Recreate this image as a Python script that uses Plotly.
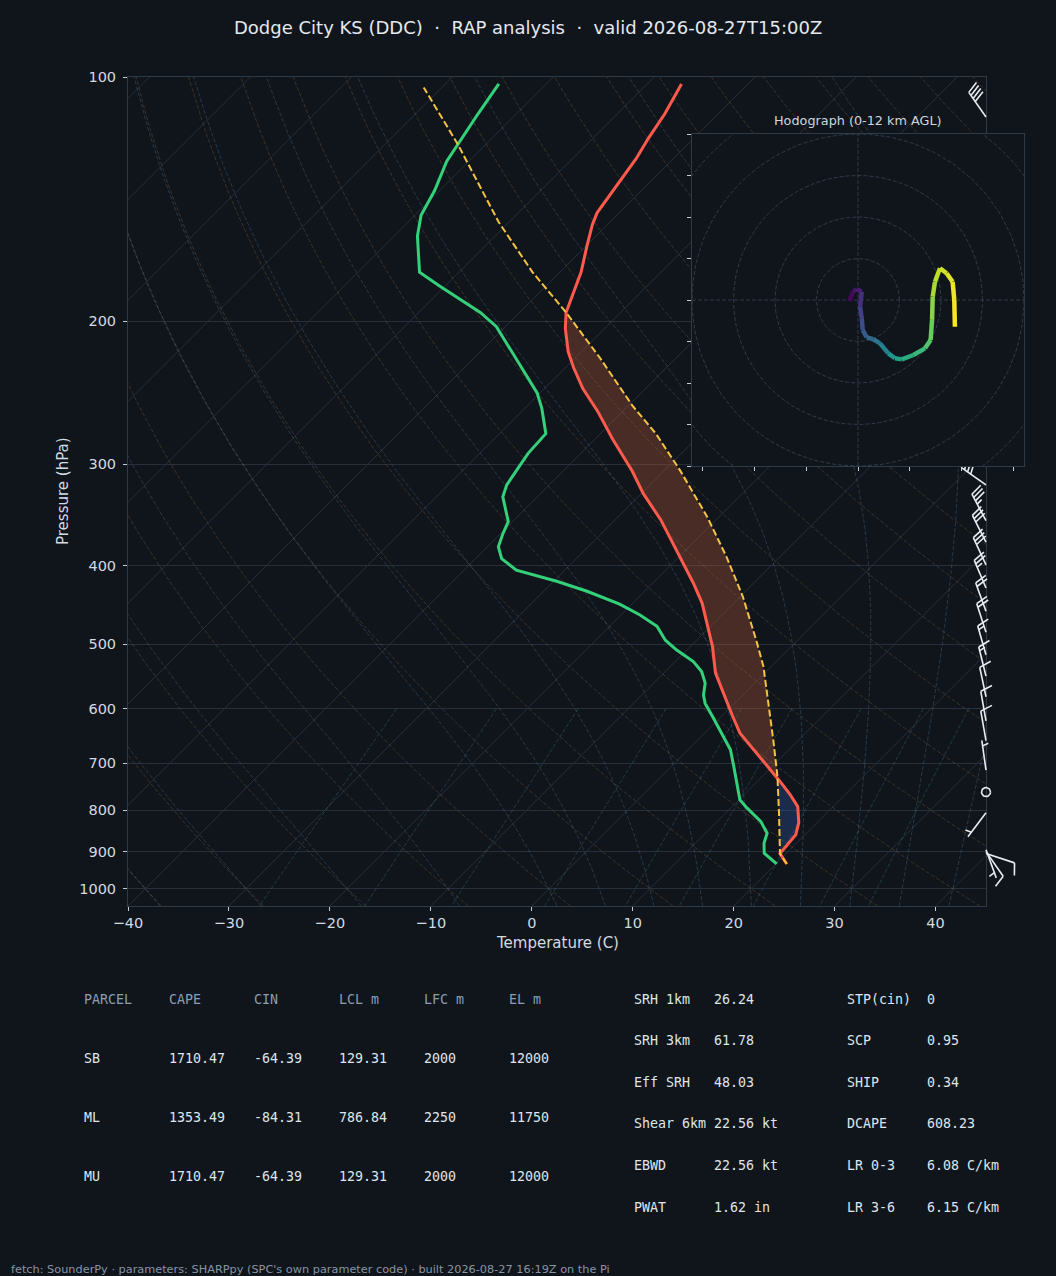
import numpy as np
import plotly.graph_objects as go
from plotly.colors import sample_colorscale

# ---- sounding (hPa, degC), surface first ----
env_p = [932, 905, 858, 829, 792, 766, 738, 713, 680, 643, 613, 574, 542, 503, 480, 445, 420, 390, 351, 326,
         306, 279, 258, 242, 228, 218, 204, 195, 184, 174, 161, 152, 147, 136, 126, 119, 111, 102]
env_t = [21.1, 19.4, 19.1, 18.2, 16.5, 14.6, 12.3, 10.1, 7.0, 3.5, 1.1, -2.1, -4.9, -7.8, -9.8, -13.1, -16.0, -19.9, -25.5, -29.8,
         -33.1, -38.3, -42.5, -46.2, -49.2, -51.3, -53.9, -55.4, -56.7, -57.9, -60.0, -61.5, -62.2, -63.0, -63.7, -64.5, -65.3, -66.6]

dew_p = [932, 904, 879, 854, 826, 795, 777, 748, 707, 674, 643, 613, 591, 577, 558, 540, 525, 508, 494, 475,
         460, 446, 430, 418, 405, 392, 379, 366, 353, 329, 318, 309, 291, 275, 256, 245, 223, 203, 195, 188,
         181, 174, 157, 148, 138, 127, 121, 111, 102]
dew_t = [20.1, 17.8, 16.8, 16.1, 14.3, 11.6, 10.1, 8.5, 6.2, 4.2, 1.7, -0.9, -2.9, -3.9, -4.9, -6.4, -8.2, -11.0, -13.1, -15.3,
         -18.1, -21.2, -25.7, -29.7, -34.8, -37.4, -38.9, -39.7, -40.4, -43.4, -44.2, -44.5, -45.2, -45.4, -48.3, -50.3, -55.6, -60.9, -63.9, -67.2,
         -70.5, -73.9, -77.7, -79.4, -80.5, -82.2, -82.8, -83.8, -84.7]

parcel_p = [932, 905, 807, 727, 656, 608, 532, 494, 437, 390, 348, 305, 275, 254, 222, 195, 174, 151, 121, 103]
parcel_t = [21.1, 19.4, 15.3, 11.5, 7.5, 4.5, -0.8, -4.1, -9.7, -15.3, -21.2, -28.5, -34.5, -39.6, -47.5, -55.4, -62.7, -71.0, -82.8, -91.8]

# wind barbs (hPa, direction deg, speed kt)
barb_p = [112, 318, 352, 374, 399, 426, 455, 483, 515, 547, 580, 621, 657, 714, 760, 806, 895, 900, 905]
barb_dir = [325, 305, 332, 333, 335, 337, 340, 342, 344, 346, 348, 350, 350, 352, 0, 217, 160, 145, 108]
barb_kt = [40, 40, 35, 30, 30, 25, 20, 20, 15, 15, 10, 10, 10, 5, 0, 5, 5, 10, 10]

# hodograph (kt) and height (km AGL)
hodo_u = [-4.2, -2.3, -0.6, 1.8, 1.0, 1.8, 2.3, 4.2, 7.4, 10.6, 14.6, 17.8, 21.1, 26.7, 32.3, 35.0, 35.7, 36.0, 37.1, 39.5, 42.7, 45.6, 46.4, 46.7]
hodo_v = [-0.5, 4.0, 5.3, 4.0, -3.2, -8.8, -14.5, -18.0, -18.9, -20.9, -25.7, -28.1, -28.6, -26.5, -23.3, -19.3, -9.6, 1.6, 8.8, 15.3, 12.9, 8.8, 0.0, -12.9]
hodo_z = [0.0, 0.5, 0.8, 1.2, 2.0, 2.6, 3.0, 3.8, 4.3, 4.8, 5.8, 6.6, 7.1, 7.8, 8.4, 8.9, 9.5, 10.2, 10.6, 11.0, 11.3, 11.6, 11.8, 12.0]

# parameter table
parcels = ["SB", "ML", "MU"]
cape = ["1710.47", "1353.49", "1710.47"]
cin = ["-64.39", "-84.31", "-64.39"]
lcl = ["129.31", "786.84", "129.31"]
lfc = ["2000", "2250", "2000"]
el = ["12000", "11750", "12000"]
table_head = ["PARCEL", "CAPE", "CIN", "LCL m", "LFC m", "EL m"]
kin_names = ["SRH 1km", "SRH 3km", "Eff SRH", "Shear 6km", "EBWD", "PWAT"]
kin_vals = ["26.24", "61.78", "48.03", "22.56 kt", "22.56 kt", "1.62 in"]
comp_names = ["STP(cin)", "SCP", "SHIP", "DCAPE", "LR 0-3", "LR 3-6"]
comp_vals = ["0", "0.95", "0.34", "608.23", "6.08 C/km", "6.15 C/km"]

BG = "#10151c"
SPINE = "#2f3a47"
GRID = "#262f3a"
TXT = "#d3dae1"
TICK = "#c3ccd5"
FONT = "DejaVu Sans"
MONO = "DejaVu Sans Mono"

W, H = 1056, 1276
P_BOT, P_TOP = 1050.0, 100.0
PX_PER_C = 858 / 85.0
PX_PER_DEC = 829 / np.log10(P_BOT / P_TOP)
SKEW = PX_PER_DEC / PX_PER_C   # 45 degree skew


def skx(t, p):
    return np.asarray(t, float) + SKEW * np.log10(P_BOT / np.asarray(p, float))


def joined(curves):
    xs, ys = [], []
    for x, y in curves:
        xs += list(x) + [None]
        ys += list(y) + [None]
    return xs, ys


fig = go.Figure()

# ---- background lines ----
pgrid = np.linspace(P_BOT, P_TOP, 120)

iso = [(skx([t, t], [P_BOT, P_TOP]), [P_BOT, P_TOP]) for t in range(-120, 50, 10)]
x, y = joined(iso)
fig.add_trace(go.Scatter(x=x, y=y, mode="lines", line=dict(color=GRID, width=1)))

dry = []
for th in range(-40, 250, 10):
    t = (th + 273.15) * (pgrid / 1000.0) ** 0.2857 - 273.15
    dry.append((skx(t, pgrid), pgrid))
x, y = joined(dry)
fig.add_trace(go.Scatter(x=x, y=y, mode="lines",
                         line=dict(color="rgba(190,130,60,0.27)", width=1, dash="4px,2px")))

Rd, Cp, Lv, EPS = 287.047, 1004.67, 2.50084e6, 0.62196


def dtdlnp(t, p):
    es = 6.112 * np.exp(17.67 * (t - 273.15) / (t - 29.65))
    es = min(es, 0.5 * p)
    rs = EPS * es / (p - es)
    return (Rd * t + Lv * rs) / (Cp + Lv * Lv * rs * EPS / (Rd * t * t))


def moist_curve(t0):
    out_p, out_t = [1000.0], [t0 + 273.15]
    for p_end in (P_TOP, P_BOT):
        lps = np.linspace(np.log(1000.0), np.log(p_end), 150)
        t = t0 + 273.15
        seq = []
        for a, b in zip(lps[:-1], lps[1:]):
            h = b - a
            pa, pm, pb = np.exp(a), np.exp(a + h / 2), np.exp(b)
            k1 = dtdlnp(t, pa)
            k2 = dtdlnp(t + h * k1 / 2, pm)
            k3 = dtdlnp(t + h * k2 / 2, pm)
            k4 = dtdlnp(t + h * k3, pb)
            t = t + h * (k1 + 2 * k2 + 2 * k3 + k4) / 6
            seq.append((pb, t))
        if p_end == P_TOP:
            out_p += [s[0] for s in seq]
            out_t += [s[1] for s in seq]
        else:
            out_p = [s[0] for s in seq][::-1] + out_p
            out_t = [s[1] for s in seq][::-1] + out_t
    out_p = np.array(out_p)
    return skx(np.array(out_t) - 273.15, out_p), out_p


moist = [moist_curve(t0) for t0 in list(range(-40, 0, 10)) + list(range(0, 46, 5))]
x, y = joined(moist)
fig.add_trace(go.Scatter(x=x, y=y, mode="lines",
                         line=dict(color="rgba(90,140,180,0.30)", width=1, dash="4px,2px")))

mix = []
pm_ = np.linspace(600, P_BOT, 40)
for w in [0.0004, 0.001, 0.002, 0.004, 0.007, 0.01, 0.016, 0.024, 0.032]:
    e = pm_ * w / (EPS + w)
    ln = np.log(e / 6.112)
    td = 243.5 * ln / (17.67 - ln)
    mix.append((skx(td, pm_), pm_))
x, y = joined(mix)
fig.add_trace(go.Scatter(x=x, y=y, mode="lines",
                         line=dict(color="rgba(70,150,160,0.30)", width=1, dash="4px,2px")))


# ---- CAPE / CIN shading ----
def at(lp, plist, tlist):
    return np.interp(-lp, -np.log10(plist), tlist)


def shade(p_lo, p_hi, positive, color):
    lp = np.linspace(np.log10(p_lo), np.log10(p_hi), 400)
    pp = 10 ** lp
    te = at(lp, env_p, env_t)
    tp = at(lp, parcel_p, parcel_t)
    if positive:
        a, b = te, np.maximum(tp, te)
    else:
        a, b = tp, np.maximum(te, tp)
    xs = np.concatenate([skx(a, pp), skx(b, pp)[::-1]])
    ys = np.concatenate([pp, pp[::-1]])
    fig.add_trace(go.Scatter(x=xs, y=ys, mode="lines", fill="toself", fillcolor=color,
                             line=dict(width=0)))


shade(905, 195, True, "rgba(203,98,58,0.30)")
shade(905, 600, False, "rgba(53,94,170,0.32)")

# ---- profiles ----
fig.add_trace(go.Scatter(x=skx(dew_t, dew_p), y=dew_p, mode="lines", line=dict(color="#33d17a", width=3)))
fig.add_trace(go.Scatter(x=skx(env_t, env_p), y=env_p, mode="lines", line=dict(color="#ff5a4c", width=3)))
fig.add_trace(go.Scatter(x=skx(parcel_t, parcel_p), y=parcel_p, mode="lines",
                         line=dict(color="#f5c242", width=2, dash="7px,3px")))

# ---- wind barbs along the right edge ----
BL = 30.0
bx, by = [], []


def barb(p0, wdir, spd):
    lp0 = np.log10(p0)
    a = np.radians(wdir)
    ae, an = np.sin(a), np.cos(a)
    pe, pn = np.cos(a), -np.sin(a)

    def seg(pts):
        for px_, al in pts:
            e = px_ * pe + al * ae
            n = px_ * pn + al * an
            bx.append(45 + e / PX_PER_C)
            by.append(10 ** (lp0 - n / PX_PER_DEC))
        bx.append(None)
        by.append(None)

    mag = 5 * round(spd / 5.0)
    if mag < 5:
        r = 0.15 * BL
        th = np.linspace(0, 2 * np.pi, 30)
        seg([(r * np.cos(q), r * np.sin(q)) for q in th])
        return
    hgt, wid, sp = 0.4 * BL, 0.25 * BL, 0.125 * BL
    seg([(0, 0), (0, BL)])
    off = BL
    for _ in range(mag // 50):
        seg([(0, off), (hgt, off - wid / 2), (0, off - wid)])
        off -= wid + sp
    for _ in range((mag % 50) // 10):
        seg([(0, off), (hgt, off + wid / 2)])
        off -= sp
    if mag % 10 >= 5:
        if off == BL:
            off -= 1.5 * sp
        seg([(0, off), (hgt / 2, off + wid / 4)])


for p0, d, s in zip(barb_p, barb_dir, barb_kt):
    barb(p0, d, s)
fig.add_trace(go.Scatter(x=bx, y=by, mode="lines", line=dict(color="#e8edf2", width=1.6),
                         xaxis="x2", yaxis="y2"))

# ---- hodograph inset ----
th = np.linspace(0, 2 * np.pi, 181)
rings = [(r * np.cos(th), r * np.sin(th)) for r in (20, 40, 60, 80, 100)]
x, y = joined(rings + [([-80, 80], [0, 0]), ([0, 0], [-80, 80])])
fig.add_trace(go.Scatter(x=x, y=y, mode="lines", line=dict(color="#2f3b49", width=1, dash="4px,2px"),
                         xaxis="x3", yaxis="y3"))
for i in range(len(hodo_u) - 1):
    c = sample_colorscale("Viridis", [(hodo_z[i] + hodo_z[i + 1]) / 2 / 12.0])[0]
    fig.add_trace(go.Scatter(x=hodo_u[i:i + 2], y=hodo_v[i:i + 2], mode="lines",
                             line=dict(color=c, width=4.5), xaxis="x3", yaxis="y3"))

# ---- layout ----
ydom = [1 - 906 / H, 1 - 77 / H]
fig.update_layout(
    width=W, height=H, margin=dict(l=0, r=0, t=0, b=0, pad=0, autoexpand=False),
    paper_bgcolor=BG, plot_bgcolor="rgba(0,0,0,0)", showlegend=False, hovermode=False,
    font=dict(family=FONT, color=TXT, size=13),
    xaxis=dict(domain=[128 / W, 986 / W], range=[-40, 45], anchor="y", automargin=False,
               tickvals=list(range(-40, 41, 10)),
               ticktext=[str(v).replace("-", "\u2212") for v in range(-40, 41, 10)],
               ticks="outside", ticklen=4, tickcolor=TICK, tickfont=dict(size=14.5, color=TXT),
               showgrid=False, zeroline=False, showline=True, linecolor=SPINE, mirror=True),
    yaxis=dict(domain=ydom, type="log", range=[np.log10(P_BOT), np.log10(P_TOP)], anchor="x",
               automargin=False, ticklabelstandoff=4,
               tickvals=list(range(100, 1001, 100)), ticktext=[str(v) for v in range(100, 1001, 100)],
               ticks="outside", ticklen=4, tickcolor=TICK, tickfont=dict(size=14.5, color=TXT),
               showgrid=True, gridcolor=GRID, gridwidth=1, zeroline=False,
               showline=True, linecolor=SPINE, mirror=True),
    xaxis2=dict(domain=[128 / W, 1.0], range=[-40, -40 + 928 / PX_PER_C], anchor="y2",
                visible=False, automargin=False),
    yaxis2=dict(domain=ydom, type="log", range=[np.log10(P_BOT), np.log10(P_TOP)], anchor="x2",
                visible=False, automargin=False),
    xaxis3=dict(domain=[692 / W, 1024 / W], range=[-80, 80], anchor="y3", automargin=False,
                tickvals=list(range(-75, 76, 25)), showticklabels=False, ticks="outside", ticklen=4,
                tickcolor=TICK, showgrid=False, zeroline=False, showline=True, linecolor=SPINE, mirror=True),
    yaxis3=dict(domain=[1 - 466 / H, 1 - 134 / H], range=[-80, 80], anchor="x3", automargin=False,
                tickvals=list(range(-80, 81, 20)), showticklabels=False, ticks="outside", ticklen=4,
                tickcolor=TICK, showgrid=False, zeroline=False, showline=True, linecolor=SPINE, mirror=True),
    shapes=[dict(type="rect", xref="x3", yref="y3", x0=-80, x1=80, y0=-80, y1=80,
                 fillcolor=BG, line=dict(width=0), layer="below")],
)

ann = []


def label(text, xpx, ypx, size=13.3, color=TXT, family=FONT, anchor="left", angle=0):
    if anchor == "left":
        xpx -= 2   # annotation box padding
    ann.append(dict(text=text, x=xpx / W, y=1 - ypx / H, xref="paper", yref="paper",
                    xanchor=anchor, yanchor="middle", showarrow=False, textangle=angle,
                    font=dict(size=size, color=color, family=family)))


NB = "\u00a0"
label(f"Dodge City KS (DDC){NB}{NB}·{NB}{NB}RAP analysis{NB}{NB}·{NB}{NB}valid 2026-08-27T15:00Z",
      528, 27, size=18, color="#e4e9ee", anchor="center")
label("Hodograph (0-12 km AGL)", 858, 120, size=12.8, color="#cfd6dd", anchor="center")
label("Temperature (C)", 557, 943, size=15, anchor="center")
label("Pressure (hPa)", 63, 491, size=15, anchor="center", angle=-90)

col_x = [84, 169, 254, 339, 424, 509]
for cx, h in zip(col_x, table_head):
    label(h, cx, 999, family=MONO, color="#8d9db1")
for r, row in enumerate(zip(parcels, cape, cin, lcl, lfc, el)):
    for cx, v in zip(col_x, row):
        label(v, cx, 1058 + 59 * r, family=MONO, color="#dfe5eb")
for r in range(6):
    yy = 999 + 41.6 * r
    label(kin_names[r], 634, yy, family=MONO, color="#dfe5eb")
    label(kin_vals[r], 714, yy, family=MONO, color="#dfe5eb")
    label(comp_names[r], 847, yy, family=MONO, color="#dfe5eb")
    label(comp_vals[r], 927, yy, family=MONO, color="#dfe5eb")

label("fetch: SounderPy · parameters: SHARPpy (SPC's own parameter code) · built 2026-08-27 16:19Z on the Pi",
      11, 1269, size=11.3, color="#8794a4")

fig.update_layout(annotations=ann)
fig.write_html("out.html", config={"displayModeBar": False},
               post_script="document.body.style.margin='0';document.body.style.background='#10151c';")
